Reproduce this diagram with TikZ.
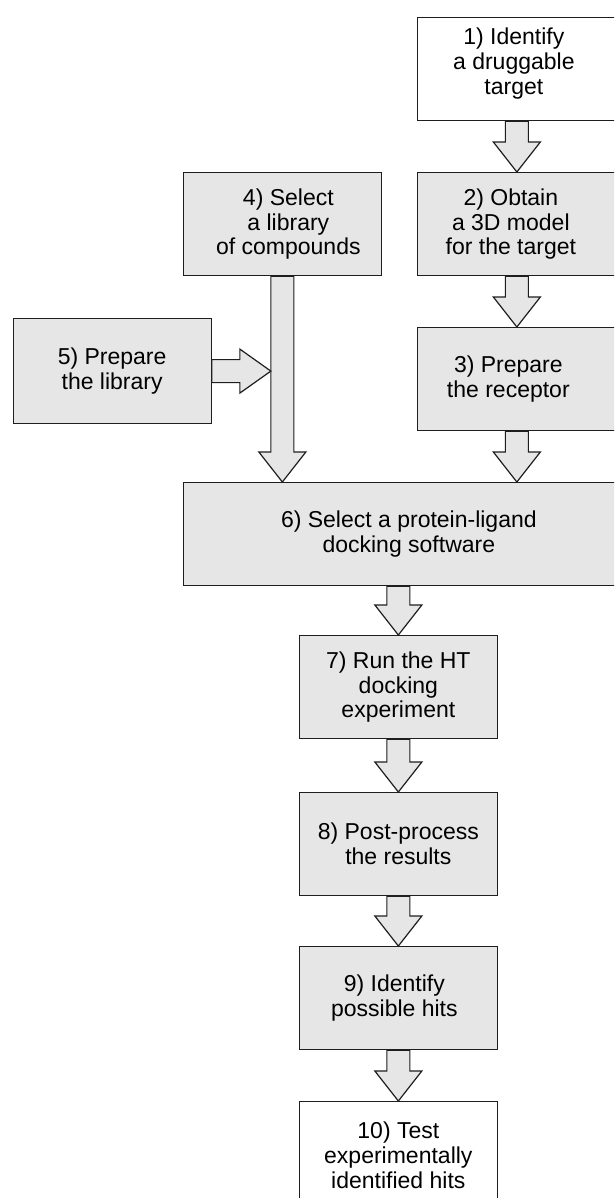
\documentclass[tikz,border=0pt]{standalone}
\usepackage{fontspec}
\setmainfont{Liberation Sans}
\usetikzlibrary{calc}
\definecolor{boxgray}{RGB}{230,230,230}
\definecolor{edgecol}{RGB}{30,30,30}
\tikzset{
  stepbox/.style={draw=edgecol, line width=1.2pt, rectangle, inner sep=0pt,
    anchor=north west, align=center, font=\fontsize{23}{24.7}\selectfont},
  graybox/.style={stepbox, fill=boxgray},
  whitebox/.style={stepbox, fill=white},
  blockarrow/.style={draw=edgecol, line width=1.2pt, fill=boxgray, line join=miter},
}
% #1 source node, #2 tip coordinate (on the top of the target box)
\newcommand\vflow[2]{%
  \draw[blockarrow]
    ($(#2 |- #1.south)+(-11.5,0)$) -- ($(#2)+(-11.5,30)$) -- ($(#2)+(-23.5,30)$)
    -- (#2) -- ($(#2)+(23.5,30)$) -- ($(#2)+(11.5,30)$)
    -- ($(#2 |- #1.south)+(11.5,0)$) -- cycle;}
\newcommand\sh[1]{\hspace*{#1}}
\begin{document}
\begin{tikzpicture}[x=1pt,y=1pt]
\useasboundingbox (0,0) rectangle (614,-1198);
\clip (0,0) rectangle (614,-1198);

\node[whitebox, minimum width=199.5pt, minimum height=103pt] (b1) at (416.5,-17) {\sh{-6pt}1) Identify\\\sh{-6pt}a druggable\\\sh{-6pt}target\\[-9pt]\mbox{}};
\node[graybox, minimum width=199.5pt, minimum height=103pt] (b2) at (416.5,-172) {\sh{-12pt}2) Obtain\\\sh{-12pt}a 3D model\\\sh{-12pt}for the target};
\node[graybox, minimum width=199.5pt, minimum height=103pt] (b3) at (416.5,-327) {\sh{-17pt}3) Prepare\\\sh{-17pt}the receptor};
\node[graybox, minimum width=198.5pt, minimum height=103pt] (b4) at (182.5,-172) {\sh{12pt}4) Select\\\sh{12pt}a library\\\sh{12pt}of compounds};
\node[graybox, minimum width=198pt, minimum height=105pt] (b5) at (12.5,-318) {5) Prepare\\the library};
\node[graybox, minimum width=451.5pt, minimum height=103pt] (b6) at (182.5,-482) {6) Select a protein-ligand\\docking software};
\node[graybox, minimum width=197.5pt, minimum height=103pt] (b7) at (299,-635) {7) Run the HT\\docking\\experiment};
\node[graybox, minimum width=197.5pt, minimum height=103pt] (b8) at (299,-792) {8) Post-process\\the results};
\node[graybox, minimum width=197.5pt, minimum height=103pt] (b9) at (299,-946) {\sh{-8pt}9) Identify\\\sh{-8pt}possible hits};
\node[whitebox, minimum width=197.5pt, minimum height=107pt] (b10) at (299,-1101) {10) Test\\experimentally\\identified hits};

\coordinate (tip12) at (b2.north);
\coordinate (tip23) at (b3.north);
\coordinate (tip36) at (b3.south |- b6.north);
\coordinate (tip46) at (b4.south |- b6.north);
\coordinate (tip67) at (b7.north);
\coordinate (tip78) at (b8.north);
\coordinate (tip89) at (b9.north);
\coordinate (tip910) at (b10.north);

\vflow{b1}{tip12}
\vflow{b2}{tip23}
\vflow{b3}{tip36}
\vflow{b4}{tip46}
\vflow{b6}{tip67}
\vflow{b7}{tip78}
\vflow{b8}{tip89}
\vflow{b9}{tip910}

\coordinate (shaftL) at ($(b4.south)+(-11.5,0)$);
\coordinate (tip5) at (shaftL |- b5.east);
\draw[blockarrow]
  ($(b5.east)+(0,11.5)$) -- ($(tip5)+(-31,11.5)$) -- ($(tip5)+(-31,22)$)
  -- (tip5) -- ($(tip5)+(-31,-22)$) -- ($(tip5)+(-31,-11.5)$)
  -- ($(b5.east)+(0,-11.5)$) -- cycle;
\end{tikzpicture}
\end{document}
